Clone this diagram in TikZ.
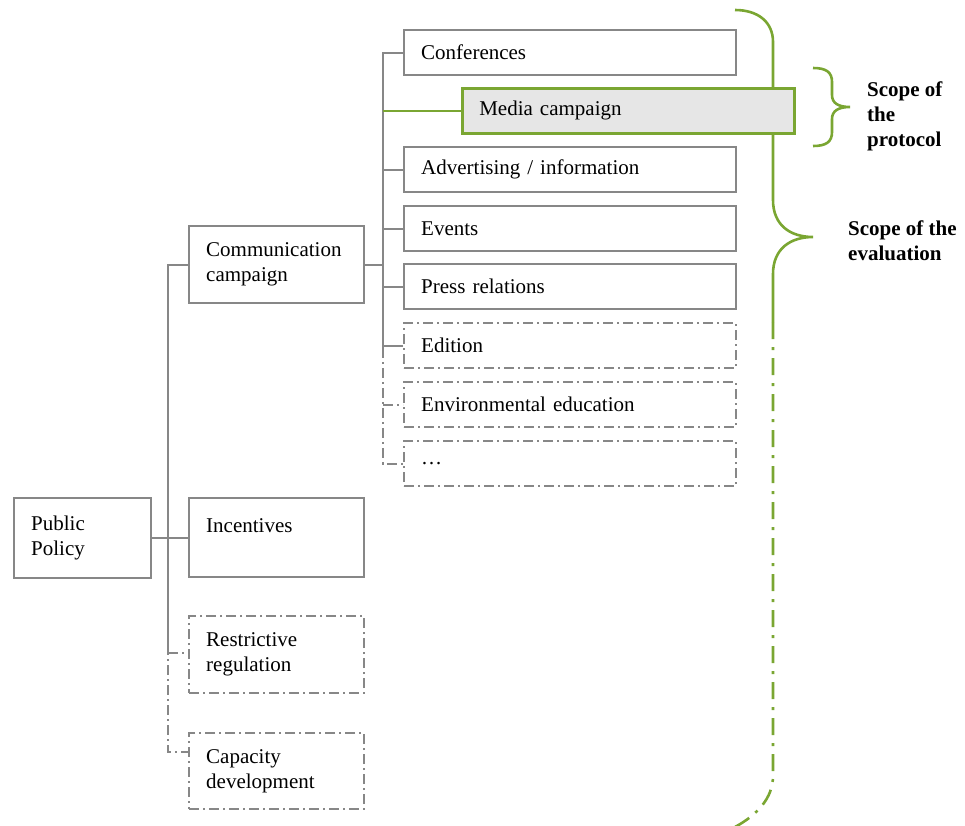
\documentclass[tikz,border=0pt]{standalone}
\usepackage{fontspec}
\setmainfont{Liberation Serif}
\definecolor{grn}{RGB}{122,166,50}
\definecolor{gln}{RGB}{135,135,135}
\definecolor{mfill}{RGB}{230,230,230}
\begin{document}
\begin{tikzpicture}[x=1pt,y=-1pt,
  box/.style={draw=gln, line width=2.4pt, rectangle, anchor=north west, inner xsep=17pt, inner ysep=0pt, align=left, font=\fontsize{21}{25}\selectfont},
  wide/.style={box, minimum width=332pt, minimum height=45pt, text width=298pt},
  tall/.style={box, minimum width=175pt, minimum height=77pt, text width=141pt},
  ddot/.style={dash pattern=on 10pt off 4pt on 2pt off 4pt},
  gdot/.style={dash pattern=on 17pt off 8pt on 3pt off 8pt},
  conn/.style={draw=gln, line width=2.4pt},
  gline/.style={draw=grn, line width=2.6pt},
  lab/.style={font=\bfseries\fontsize{21}{25}\selectfont, align=left, anchor=north west, inner sep=0pt}]
\useasboundingbox (0,0) rectangle (965,825);

% braces (behind boxes)
\draw[gline] (735,10) .. controls (758,10) and (773,22) .. (773,42) -- (773,200)
  .. controls (773,225) and (790,237) .. (813,237)
  .. controls (790,237) and (773,249) .. (773,274) -- (773,322);
\draw[gline, gdot] (773,322) -- (773,776) .. controls (773,798) and (757,815) .. (735,827);
\draw[gline] (813,68) .. controls (826,68) and (832,72) .. (832,82) -- (832,95)
  .. controls (832,103) and (838,107) .. (850,107)
  .. controls (838,107) and (832,111) .. (832,119) -- (832,132)
  .. controls (832,142) and (826,146) .. (813,146);
\node[lab] (lp) at (867,82) {Scope of\\the\\protocol};
\node[lab] (le) at (848,221) {Scope of the\\evaluation};

% left column
\node[box, minimum width=137pt, minimum height=80pt, text width=103pt] (pp) at (13,497) {Public\\Policy};
\node[tall] (cc) at (188,225) {Communication\\campaign};
\node[tall, minimum height=79pt] (inc) at (188,497) {Incentives\\\mbox{}};
\node[tall, ddot] (rr) at (188,615) {Restrictive\\regulation};
\node[tall, ddot, minimum height=76pt] (cd) at (188,732) {Capacity\\development};

% right column
\node[wide] (conf) at (403,29) {Conferences};
\node[wide, draw=grn, line width=2.6pt, fill=mfill] (mc) at (461,87) {Media campaign};
\node[wide] (adv) at (403,146) {Advertising / information};
\node[wide] (ev) at (403,205) {Events};
\node[wide] (pr) at (403,263) {Press relations};
\node[wide, ddot] (ed) at (403,322) {Edition};
\node[wide, ddot] (ee) at (403,381) {Environmental education};
\node[wide, ddot] (dots) at (403,440) {\dots};

% trunks
\coordinate (t1) at (168,0);
\coordinate (t2) at (383,0);
\coordinate (t1s) at (168,645);
\coordinate (t2s) at (383,348);

% left trunk
\draw[conn] (cc.west) -- (cc.west -| t1) -- (t1s);
\draw[conn] (pp.east) -- (pp.east -| inc.west);
\draw[conn, ddot] (t1s) -- (168,752) -- (188,752);
\draw[conn, ddot] (168,653) -- (188,653);

% right trunk
\draw[conn] (cc.east) -- (cc.east -| t2);
\draw[conn] (conf.west) -- (conf.west -| t2) -- (t2s);
\draw[conn] (adv.west) -- (adv.west -| t2);
\draw[conn] (ev.west) -- (ev.west -| t2);
\draw[conn] (pr.west) -- (pr.west -| t2);
\draw[conn] (ed.west) -- (ed.west -| t2);
\draw[conn, ddot] (t2s) -- (dots.west -| t2) -- (dots.west);
\draw[conn, ddot] (ee.west -| t2) -- (ee.west);
\draw[gline] (mc.west -| t2) -- (mc.west);
\end{tikzpicture}
\end{document}
